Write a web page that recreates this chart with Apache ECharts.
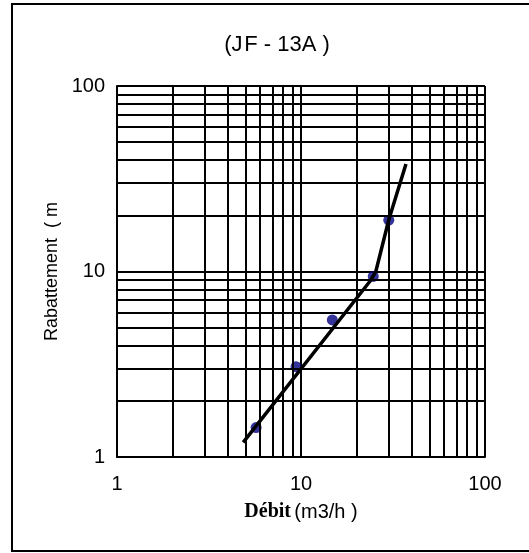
<!DOCTYPE html>
<html>
<head>
<meta charset="utf-8">
<script src="https://cdn.jsdelivr.net/npm/echarts@6/dist/echarts.min.js"></script>
<style>
  html, body { margin: 0; padding: 0; background: #fff; }
  #chart { width: 529px; height: 553px; }
</style>
</head>
<body>
<div id="chart"></div>
<script>
// measured points (débit m3/h, rabattement m)
const debit = [5.7, 9.4, 14.8, 24.7, 30];
const rabattement = [1.44, 3.07, 5.48, 9.4, 18.9];

// fitted curve
const curveX = [4.85, 24, 25.5, 30, 37.2];
const curveY = [1.2, 9.0, 10, 19, 38];

// minor grid values (log decades)
const minorVals = [2, 3, 4, 5, 6, 7, 8, 9, 20, 30, 40, 50, 60, 70, 80, 90];

const chart = echarts.init(document.getElementById('chart'));

const gridLine = { color: '#000', width: 2, type: 'solid' };

const option = {
  animation: false,
  title: {
    text: '(J\u200aF - 13A )',
    left: 272,
    top: 29,
    textAlign: 'center',
    textStyle: { fontFamily: 'Liberation Sans', fontSize: 22, fontWeight: 'normal', color: '#000' }
  },
  graphic: [{
    type: 'rect',
    shape: { x: 12, y: 4, width: 540, height: 547 },
    style: { fill: 'none', stroke: '#000', lineWidth: 2 },
    silent: true
  }],
  grid: { left: 117, right: 44, top: 86, bottom: 96 },
  xAxis: {
    type: 'log',
    logBase: 10,
    min: 1,
    max: 100,
    name: '{b|Débit} {n|(m3/h )}',
    nameLocation: 'middle',
    nameGap: 45,
    nameTextStyle: {
      rich: {
        b: { fontFamily: 'Liberation Serif', fontWeight: 'bold', fontSize: 20, color: '#000' },
        n: { fontFamily: 'Liberation Sans', fontSize: 20, color: '#000' }
      }
    },
    axisLine: { show: true, lineStyle: { color: '#000', width: 2 } },
    axisTick: { show: false },
    axisLabel: { fontFamily: 'Liberation Sans', fontSize: 20, color: '#000', margin: 17 },
    splitLine: { show: true, lineStyle: gridLine }
  },
  yAxis: {
    type: 'log',
    logBase: 10,
    min: 1,
    max: 100,
    name: 'Rabattement  ( m',
    nameLocation: 'middle',
    nameGap: 53,
    nameTextStyle: { fontFamily: 'Liberation Sans', fontSize: 18, color: '#000' },
    axisLine: { show: true, lineStyle: { color: '#000', width: 2 } },
    axisTick: { show: false },
    axisLabel: { fontFamily: 'Liberation Sans', fontSize: 20, color: '#000', margin: 12 },
    splitLine: { show: true, lineStyle: gridLine }
  },
  series: [
    {
      type: 'line',
      data: [],
      silent: true,
      markLine: {
        silent: true,
        symbol: 'none',
        label: { show: false },
        lineStyle: gridLine,
        data: minorVals.map(v => ({ xAxis: v })).concat(minorVals.map(v => ({ yAxis: v })))
      }
    },
    {
      name: 'courbe',
      type: 'line',
      data: curveX.map((x, i) => [x, curveY[i]]),
      symbol: 'none',
      lineStyle: { color: '#000', width: 3.5 },
      z: 3
    },
    {
      name: 'mesures',
      type: 'scatter',
      data: debit.map((x, i) => [x, rabattement[i]]),
      symbolSize: 11,
      itemStyle: { color: '#000080' },
      z: 2
    }
  ]
};

chart.setOption(option);
</script>
</body>
</html>
